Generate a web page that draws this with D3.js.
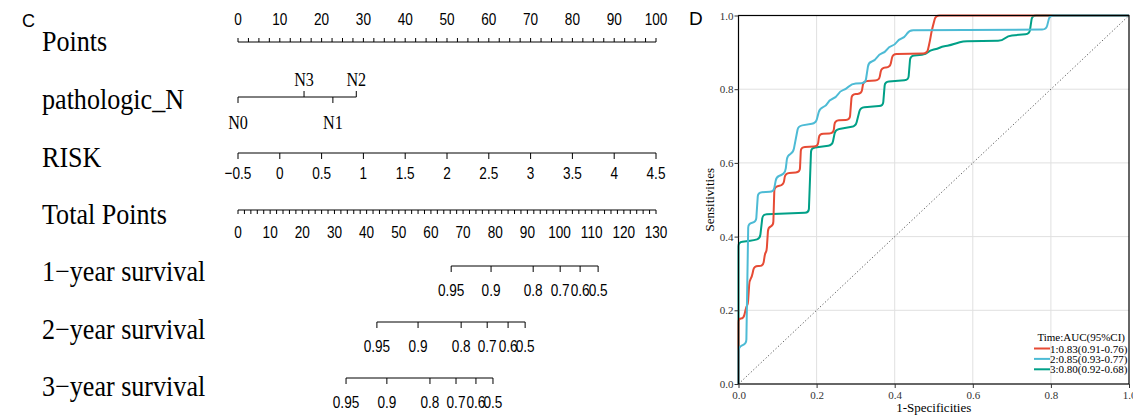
<!DOCTYPE html>
<html><head><meta charset="utf-8">
<script src="https://cdn.jsdelivr.net/npm/d3@7"></script>
<style>body{margin:0;background:#fff}svg{display:block}</style>
</head><body>
<svg id="c" width="1133" height="415"></svg>
<script>
// ---------- Nomogram data ----------
const rowLabels = ["Points","pathologic_N","RISK","Total Points","1\u2212year survival","2\u2212year survival","3\u2212year survival"];
const pointsTicks = d3.range(0, 101, 10);
const nLevels = ["N0","N1","N2","N3"];
const nPoints = [0, 22.7, 28.3, 15.8];
const nSide = ["below","below","above","above"];
const riskTicks = [-0.5,0,0.5,1,1.5,2,2.5,3,3.5,4,4.5];
const riskRange = [-0.5, 4.5];
const totalTicks = d3.range(0, 131, 10);
const survProbs = [0.95,0.9,0.8,0.7,0.6,0.5];
const surv1Points = [66.3,78.7,91.8,100.2,106.4,112.0];
const surv2Points = [43.2,56.0,69.4,77.5,84.0,89.3];
const surv3Points = [33.6,46.3,59.7,67.8,74.0,79.3];

// ---------- ROC data ----------
const rocNames = ["1:0.83(0.91-0.76)","2:0.85(0.93-0.77)","3:0.80(0.92-0.68)"];
const rocColors = ["#E64B35","#4DBBD5","#00A087"];
const roc1 = [[0,0],[0,0.178],[0.013,0.178],[0.02,0.21],[0.024,0.215],[0.028,0.28],[0.034,0.29],[0.04,0.32],[0.063,0.32],[0.068,0.355],[0.072,0.36],[0.076,0.425],[0.089,0.43],[0.092,0.535],[0.115,0.54],[0.12,0.572],[0.157,0.575],[0.16,0.643],[0.203,0.645],[0.207,0.679],[0.243,0.68],[0.247,0.715],[0.285,0.717],[0.29,0.786],[0.315,0.788],[0.32,0.822],[0.36,0.824],[0.366,0.858],[0.388,0.86],[0.395,0.895],[0.483,0.897],[0.49,0.93],[0.495,0.96],[0.505,1.0],[1,1]];
const roc2 = [[0,0],[0,0.10],[0.02,0.11],[0.025,0.435],[0.045,0.44],[0.05,0.52],[0.09,0.522],[0.097,0.562],[0.11,0.567],[0.12,0.575],[0.125,0.62],[0.14,0.628],[0.153,0.70],[0.198,0.708],[0.208,0.748],[0.225,0.755],[0.232,0.77],[0.25,0.778],[0.26,0.795],[0.275,0.80],[0.29,0.815],[0.325,0.817],[0.333,0.872],[0.35,0.878],[0.36,0.895],[0.375,0.9],[0.385,0.915],[0.4,0.92],[0.41,0.935],[0.425,0.94],[0.437,0.96],[0.788,0.962],[0.797,1.0],[1,1]];
const roc3 = [[0,0],[0,0.385],[0.04,0.39],[0.055,0.395],[0.062,0.46],[0.18,0.465],[0.186,0.64],[0.24,0.648],[0.248,0.69],[0.3,0.70],[0.312,0.75],[0.37,0.755],[0.375,0.82],[0.435,0.825],[0.44,0.89],[0.48,0.895],[0.49,0.905],[0.51,0.91],[0.52,0.915],[0.545,0.92],[0.558,0.925],[0.575,0.93],[0.675,0.932],[0.69,0.945],[0.745,0.95],[0.752,1.0],[1,1]];
const rocTicks = [0,0.2,0.4,0.6,0.8,1.0];

const svg = d3.select("#c");
const serif = "'Liberation Serif','Times New Roman',serif";
const sans = "'Liberation Sans',Arial,sans-serif";

// ---------- Nomogram ----------
const xP = d3.scaleLinear().domain([0,100]).range([238,656]);
const xT = d3.scaleLinear().domain([0,130]).range([238,656]);
const xR = d3.scaleLinear().domain(riskRange).range([xP(0), xP(100)]);
const rowY = [42,100,158,215,272,330,387];
const nom = svg.append("g").attr("stroke","#000").attr("fill","none");

svg.append("text").attr("x",22).attr("y",27).attr("font-family",sans).attr("font-size",18).text("C");
svg.append("text").attr("x",689).attr("y",25).attr("font-family",sans).attr("font-size",19).text("D");

rowLabels.forEach((t,i)=>{
  svg.append("text").attr("transform",`translate(42,${rowY[i]+9}) scale(0.9,1)`)
    .attr("font-family",serif).attr("font-size",29).text(t);
});

function numText(x,y,t){
  svg.append("text").attr("transform",`translate(${x},${y}) scale(0.8,1)`).attr("text-anchor","middle")
    .attr("font-family",sans).attr("font-size",17).attr("fill","#000").text(t);
}

// Points axis
const pY = 42;
nom.append("line").attr("x1",xP(0)).attr("x2",xP(100)).attr("y1",pY).attr("y2",pY);
d3.range(0,100.01,2.5).forEach(v=>{
  nom.append("line").attr("x1",xP(v)).attr("x2",xP(v)).attr("y1",pY).attr("y2",pY-4);
});
pointsTicks.forEach(v=>numText(xP(v),25,v));

// pathologic_N
const nY = 97;
nom.append("line").attr("x1",xP(d3.min(nPoints))).attr("x2",xP(d3.max(nPoints))).attr("y1",nY).attr("y2",nY);
nLevels.forEach((lv,i)=>{
  const x = xP(nPoints[i]);
  const up = nSide[i]==="above";
  nom.append("line").attr("x1",x).attr("x2",x).attr("y1",nY).attr("y2",up?nY-6:nY+6);
  svg.append("text").attr("transform",`translate(${x},${up?nY-11:nY+32}) scale(0.85,1)`).attr("text-anchor","middle")
    .attr("font-family",serif).attr("font-size",19).text(lv);
});

// RISK
const rY = 153;
nom.append("line").attr("x1",xR(riskRange[0])).attr("x2",xR(riskRange[1])).attr("y1",rY).attr("y2",rY);
riskTicks.forEach(v=>{
  nom.append("line").attr("x1",xR(v)).attr("x2",xR(v)).attr("y1",rY).attr("y2",rY+6);
  numText(xR(v),rY+26,v===-0.5?"\u22120.5":v);
});

// Total points
const tY = 210;
nom.append("line").attr("x1",xT(0)).attr("x2",xT(130)).attr("y1",tY).attr("y2",tY);
d3.range(0,130.01,2).forEach(v=>{
  nom.append("line").attr("x1",xT(v)).attr("x2",xT(v)).attr("y1",tY).attr("y2",tY+4);
});
totalTicks.forEach(v=>numText(xT(v),tY+28,v));

// Survival axes
[[surv1Points,266],[surv2Points,322],[surv3Points,378]].forEach(([pts,y])=>{
  nom.append("line").attr("x1",xT(d3.min(pts))).attr("x2",xT(d3.max(pts))).attr("y1",y).attr("y2",y);
  pts.forEach((p,i)=>{
    nom.append("line").attr("x1",xT(p)).attr("x2",xT(p)).attr("y1",y).attr("y2",y+6);
    numText(xT(p),y+30,survProbs[i]);
  });
});

// ---------- ROC ----------
const rx = d3.scaleLinear().domain([0,1]).range([738.5,1129]);
const ry = d3.scaleLinear().domain([0,1]).range([384,15.5]);
const roc = svg.append("g");
rocTicks.slice(1,5).forEach(v=>{
  roc.append("line").attr("x1",rx(v)).attr("x2",rx(v)).attr("y1",ry(0)).attr("y2",ry(1)).attr("stroke","#e0e0e0").attr("stroke-width",1);
  roc.append("line").attr("y1",ry(v)).attr("y2",ry(v)).attr("x1",rx(0)).attr("x2",rx(1)).attr("stroke","#e0e0e0").attr("stroke-width",1);
});
roc.append("line").attr("x1",rx(0)).attr("y1",ry(0)).attr("x2",rx(1)).attr("y2",ry(1))
  .attr("stroke","#555").attr("stroke-width",1).attr("stroke-dasharray","1.2,2.2");

function roundedPath(pts, r){
  const P = pts.map(d=>[rx(d[0]),ry(d[1])]);
  let s = `M${P[0][0]},${P[0][1]}`;
  for(let i=1;i<P.length-1;i++){
    const a=P[i-1], b=P[i], c=P[i+1];
    const l1=Math.hypot(b[0]-a[0],b[1]-a[1]), l2=Math.hypot(c[0]-b[0],c[1]-b[1]);
    const r1=Math.min(r,l1/2), r2=Math.min(r,l2/2);
    const p1=[b[0]+(a[0]-b[0])*(l1?r1/l1:0), b[1]+(a[1]-b[1])*(l1?r1/l1:0)];
    const p2=[b[0]+(c[0]-b[0])*(l2?r2/l2:0), b[1]+(c[1]-b[1])*(l2?r2/l2:0)];
    s += `L${p1[0]},${p1[1]}Q${b[0]},${b[1]} ${p2[0]},${p2[1]}`;
  }
  const e=P[P.length-1];
  return s+`L${e[0]},${e[1]}`;
}
[[roc3,2],[roc1,0],[roc2,1]].forEach(([d,idx])=>{
  roc.append("path").attr("d",roundedPath(d,4)).attr("fill","none")
    .attr("stroke",rocColors[idx]).attr("stroke-width",2);
});
roc.append("rect").attr("x",rx(0)).attr("y",ry(1)).attr("width",rx(1)-rx(0)).attr("height",ry(0)-ry(1))
  .attr("fill","none").attr("stroke","#000").attr("stroke-width",1.2);
const ax = roc.append("g").attr("transform",`translate(0,${ry(0)})`)
  .call(d3.axisBottom(rx).tickValues(rocTicks).tickFormat(d3.format(".1f")).tickSize(4).tickSizeOuter(0));
const ay = roc.append("g").attr("transform",`translate(${rx(0)},0)`)
  .call(d3.axisLeft(ry).tickValues(rocTicks).tickFormat(d3.format(".1f")).tickSize(4).tickSizeOuter(0));
[ax,ay].forEach(g=>{
  g.select(".domain").remove();
  g.selectAll("text").attr("font-family",serif).attr("font-size",11).attr("fill","#333");
  g.selectAll("line").attr("stroke","#333");
});
ay.selectAll("text").attr("x",-5);
roc.append("text").attr("x",(rx(0)+rx(1))/2).attr("y",412).attr("text-anchor","middle")
  .attr("font-family",serif).attr("font-size",13).text("1-Specificities");
roc.append("text").attr("transform",`translate(714,${(ry(0)+ry(1))/2}) rotate(-90)`).attr("text-anchor","middle")
  .attr("font-family",serif).attr("font-size",13).text("Sensitivities");
const lg = roc.append("g").attr("font-family",serif).attr("font-size",11);
lg.append("text").attr("x",1125).attr("y",341).attr("text-anchor","end").text("Time:AUC(95%CI)");
rocNames.forEach((n,i)=>{
  const y = 348.5 + i*10.4;
  lg.append("line").attr("x1",1034).attr("x2",1050).attr("y1",y).attr("y2",y).attr("stroke",rocColors[i]).attr("stroke-width",2);
  lg.append("text").attr("x",1050).attr("y",y+4).text(n);
});
</script>
</body></html>
